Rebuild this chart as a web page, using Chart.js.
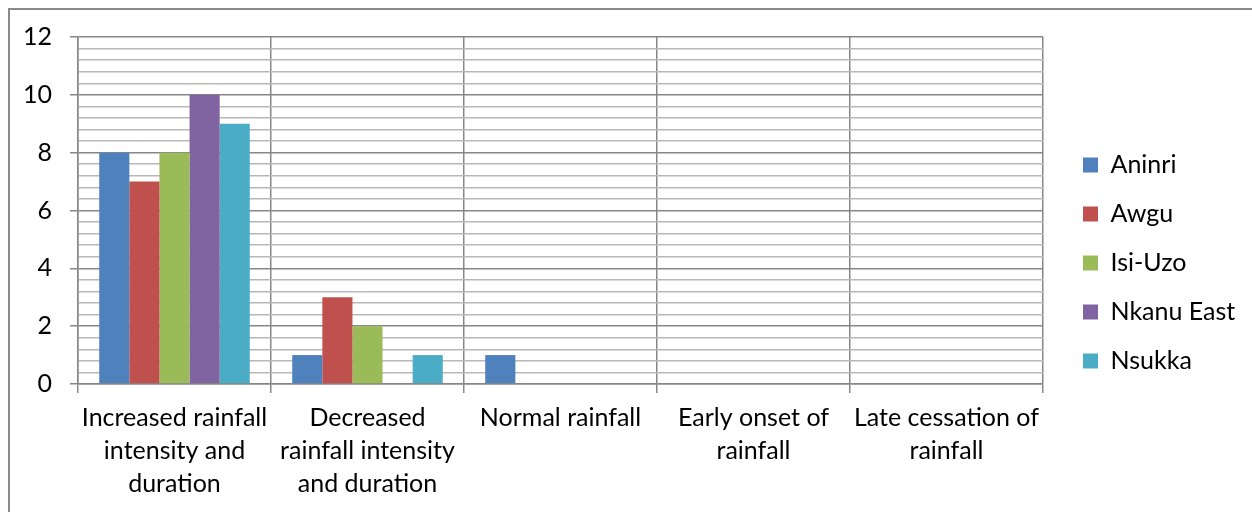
<!DOCTYPE html>
<html><head><meta charset="utf-8">
<script src="https://cdn.jsdelivr.net/npm/chart.js@4"></script>
<style>
html,body{margin:0;padding:0;background:#fff;overflow:hidden;width:1252px;height:512px}
#frame{position:absolute;left:8px;top:8px;width:1300px;height:600px;border-left:2px solid #8a8a8a;border-top:2px solid #8a8a8a;}
#c{position:absolute;left:0;top:0;}
</style></head><body>
<div id="frame"></div>
<canvas id="c" width="1252" height="512"></canvas>
<script>
const categories = [
  ["Increased rainfall", "intensity and", "duration"],
  ["Decreased", "rainfall intensity", "and duration"],
  ["Normal rainfall"],
  ["Early onset of", "rainfall"],
  ["Late cessation of", "rainfall"]
];
const seriesNames = ["Aninri", "Awgu", "Isi-Uzo", "Nkanu East", "Nsukka"];
const aninri    = [8, 1, 1, 0, 0];
const awgu      = [7, 3, 0, 0, 0];
const isiUzo    = [8, 2, 0, 0, 0];
const nkanuEast = [10, 0, 0, 0, 0];
const nsukka    = [9, 1, 0, 0, 0];
const yTickLabels = [0, 2, 4, 6, 8, 10, 12];
const colors = ["#4F81BD", "#C0504D", "#9BBB59", "#8064A2", "#4BACC6"];

const FONT = "Lato";
const FS = 25;

const isMajor = v => yTickLabels.some(t => Math.abs(t - v) < 1e-6);

const legendPlace = {
  id: 'legendPlace',
  beforeLayout(chart) {
    const lg = chart.legend;
    if (lg && !lg._patched) {
      const f = lg.fit;
      lg.fit = function () { f.call(this); this.width = 209; };
      lg._patched = true;
    }
  },
  afterLayout(chart) {
    const lg = chart.legend;
    lg.left = 1059; lg.right = lg.left + lg.width;
    lg.top = 14; lg.bottom = 512; lg.height = lg.bottom - lg.top;
  }
};

new Chart(document.getElementById('c'), {
  type: 'bar',
  data: {
    labels: categories,
    datasets: [aninri, awgu, isiUzo, nkanuEast, nsukka].map((d, i) => ({
      label: seriesNames[i],
      data: d,
      backgroundColor: colors[i],
      borderWidth: 0,
      barPercentage: 1,
      categoryPercentage: 0.78
    }))
  },
  plugins: [legendPlace],
  options: {
    responsive: false,
    animation: false,
    devicePixelRatio: 1,
    layout: { padding: { left: 0, top: 37, right: 0, bottom: 0 } },
    plugins: {
      tooltip: { enabled: false },
      legend: {
        position: 'right',
        labels: {
          boxWidth: 15, boxHeight: 15, padding: 24,
          color: '#000',
          font: { family: FONT, size: FS }
        }
      }
    },
    scales: {
      x: {
        grid: { offset: true, color: '#878787', lineWidth: 1.5, tickLength: 9, tickColor: '#878787', drawTicks: true },
        border: { color: '#878787', width: 1.5 },
        ticks: { color: '#000', font: { family: FONT, size: FS, lineHeight: 1.32 }, padding: 8, maxRotation: 0, autoSkip: false },
        afterFit(s) { s.height = 128; }
      },
      y: {
        min: 0, max: 12,
        grid: {
          color: ctx => isMajor(ctx.tick.value) ? '#878787' : '#b8b8b8',
          tickColor: ctx => isMajor(ctx.tick.value) ? '#878787' : 'rgba(0,0,0,0)',
          lineWidth: 1.5, tickLength: 8
        },
        border: { color: '#878787', width: 1.5 },
        ticks: {
          stepSize: 0.4, autoSkip: false, padding: 18, color: '#000',
          font: { family: FONT, size: FS },
          callback: v => isMajor(v) ? String(Math.round(v)) : ''
        },
        afterFit(s) { s.width = 78; }
      }
    }
  }
});
</script>
</body></html>
